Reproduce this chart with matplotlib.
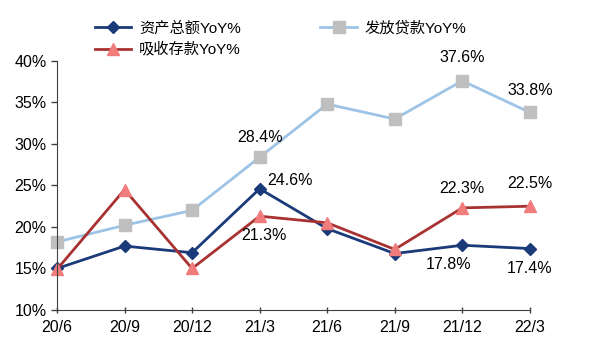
import matplotlib.pyplot as plt

plt.rcParams['font.family'] = ['Liberation Sans', 'Noto Sans CJK SC', 'DejaVu Sans']

quarters = ['20/6', '20/9', '20/12', '21/3', '21/6', '21/9', '21/12', '22/3']
assets_yoy = [15.0, 17.7, 16.9, 24.6, 19.8, 16.8, 17.8, 17.4]
loans_yoy = [18.2, 20.2, 22.0, 28.4, 34.8, 33.0, 37.6, 33.8]
deposits_yoy = [14.9, 24.5, 15.0, 21.3, 20.5, 17.3, 22.3, 22.5]

fig = plt.figure(figsize=(6, 3.46), dpi=100)
ax = fig.add_axes([0.095, 0.104, 0.788, 0.72])
x = range(len(quarters))

l1, = ax.plot(x, assets_yoy, color='#1B3A7A', lw=2, marker='D', ms=6,
              mfc='#1B3A7A', mec='#1B3A7A', label='资产总额YoY%', clip_on=False)
l2, = ax.plot(x, loans_yoy, color='#9DC3E6', lw=2, marker='s', ms=8,
              mfc='#BFBFBF', mec='#BFBFBF', label='发放贷款YoY%', clip_on=False)
l3, = ax.plot(x, deposits_yoy, color='#A83232', lw=2, marker='^', ms=9,
              mfc='#F07C7C', mec='#F07C7C', label='吸收存款YoY%', clip_on=False)

ax.set_xlim(0, len(quarters) - 1)
ax.set_ylim(10, 40)
ax.set_xticks(list(x))
ax.set_xticklabels(quarters)
ax.set_yticks(range(10, 41, 5))
ax.set_yticklabels([f'{v}%' for v in range(10, 41, 5)])
ax.tick_params(axis='both', labelsize=11.5, length=4, width=1, color='#404040')
ax.tick_params(axis='x', direction='inout', pad=5)
for s in ['top', 'right']:
    ax.spines[s].set_visible(False)
for s in ['left', 'bottom']:
    ax.spines[s].set_color('#404040')

# 数据标签
def label(i, series, dx, dy):
    ax.annotate(f'{series[i]:.1f}%', (i, series[i]), xytext=(dx, dy),
                textcoords='offset points', ha='center', va='center', fontsize=11.5)

label(3, loans_yoy, 0, 14)
label(6, loans_yoy, 0, 17)
label(7, loans_yoy, 0, 16)
label(3, assets_yoy, 22, 6)
label(6, assets_yoy, -10, -14)
label(7, assets_yoy, 0, -14)
label(3, deposits_yoy, 3, -14)
label(6, deposits_yoy, 0, 14)
label(7, deposits_yoy, 0, 16)

fig.legend(handles=[l1, l3, l2], ncol=2, loc='upper left', bbox_to_anchor=(0.135, 0.98),
           frameon=False, fontsize=11, handlelength=2.4, columnspacing=5.2,
           labelspacing=0.45, handletextpad=0.5)

fig.savefig('out.png', dpi=100)
